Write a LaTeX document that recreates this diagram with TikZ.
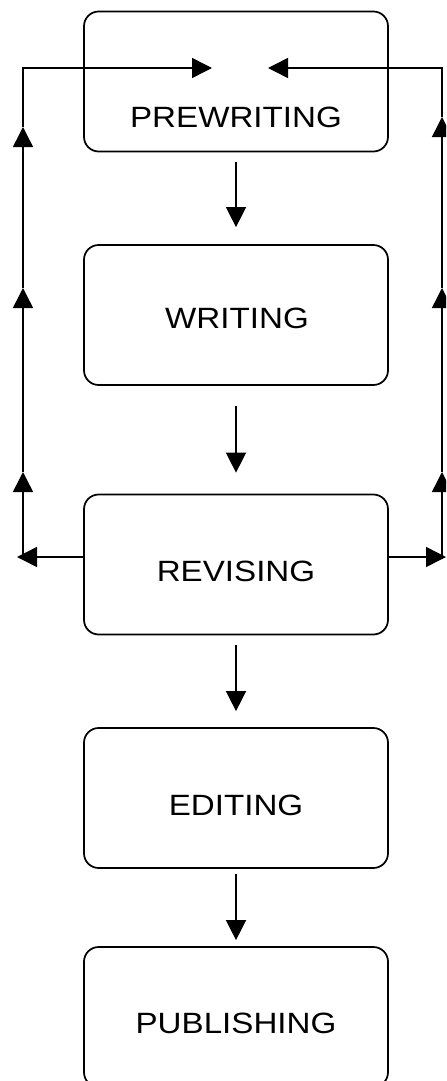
\documentclass[tikz,border=0pt]{standalone}
\usepackage{fontspec}
\setmainfont[FakeStretch=1.13]{Liberation Sans}
\usetikzlibrary{arrows.meta}

\begin{document}
\begin{tikzpicture}[x=0.75pt,y=0.75pt,yscale=-1,xscale=1,
  stage/.style={draw,line width=1.3pt,rounded corners=11pt,minimum width=228pt,minimum height=105pt,inner sep=0pt},
  lbl/.style={font=\fontsize{22pt}{26pt}\selectfont,inner sep=0pt},
  flow/.style={line width=1.1pt,-{Triangle[length=15pt,width=15pt]}}]
  \useasboundingbox (0,0) rectangle (446,1081);
  \clip (0,0) rectangle (446,1081);

  %Rounded Rect [stages]
  \node[stage] (prew) at (236,81.5) {};
  \node[stage] (writ) at (236,315) {};
  \node[stage] (revi) at (236,564.5) {};
  \node[stage] (edit) at (236,798) {};
  \node[stage] (publ) at (236,1017) {};

  % Text Node
  \node[lbl] (prewt) at (236,117) {PREWRITING};
  \node[lbl] (writt) at (237,318) {WRITING};
  \node[lbl] (revit) at (236,571) {REVISING};
  \node[lbl] (editt) at (236,805) {EDITING};
  \node[lbl] (publt) at (236,1023) {PUBLISHING};

  %Straight Lines [down the stages]
  \draw[flow,shorten <=7.5pt,shorten >=12.75pt] (prew.south) -- (writ.north);
  \draw[flow,shorten <=15pt,shorten >=15.75pt] (writ.south) -- (revi.north);
  \draw[flow,shorten <=7.5pt,shorten >=12pt] (revi.south) -- (edit.north);
  \draw[flow,shorten <=3.75pt,shorten >=4.5pt] (edit.south) -- (publ.north);

  % loop points
  \coordinate (ltop) at (23,68);
  \coordinate (lup1) at (23,127);
  \coordinate (lup2) at (23,288);
  \coordinate (lup3) at (23,472);
  \coordinate (lbot) at (23,557);
  \coordinate (ltip) at (17,557);
  \coordinate (lin) at (212,68);
  \coordinate (rtop) at (442,68);
  \coordinate (rup1) at (442,117);
  \coordinate (rup2) at (442,288);
  \coordinate (rup3) at (442,472);
  \coordinate (rbot) at (442,557);
  \coordinate (rtip) at (446,557);
  \coordinate (rin) at (268,68);

  %Straight Lines [left loop]
  \draw[flow] (revi.west |- lbot) -- (ltip);
  \draw[flow] (lbot) -- (lup3);
  \draw[flow] (lup3) -- (lup2);
  \draw[flow] (lup2) -- (lup1);
  \draw[flow] (lup1) -- (ltop) -- (lin);

  %Straight Lines [right loop]
  \draw[flow] (revi.east |- rbot) -- (rtip);
  \draw[flow] (rbot) -- (rup3);
  \draw[flow] (rup3) -- (rup2);
  \draw[flow] (rup2) -- (rup1);
  \draw[flow] (rup1) -- (rtop) -- (rin);

\end{tikzpicture}
\end{document}
